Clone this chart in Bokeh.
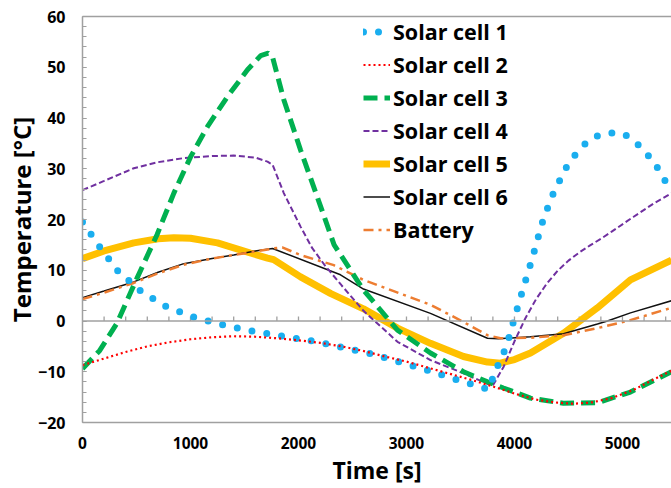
from bokeh.plotting import figure
from bokeh.models import Range1d, LinearAxis, FixedTicker, Legend, LegendItem, Span
from bokeh.embed import file_html
from bokeh.resources import INLINE

# ---- data: temperature histories over one orbit-like cycle ----
t_cell1 = [0, 160, 330, 545, 780, 1030, 1305, 1575, 1850, 2120, 2385, 2660, 2925,
           3195, 3455, 3715, 3760, 3830, 3900, 3950, 4000, 4050, 4100, 4150, 4200,
           4250, 4300, 4350, 4410, 4465, 4545, 4630, 4740, 4870, 5010, 5120, 5220,
           5305, 5370, 5454]
T_cell1 = [19.5, 14.6, 9.8, 5.8, 2.8, 0.8, -0.8, -2.0, -3.0, -3.9, -5.1, -6.4, -8.0,
           -9.7, -11.5, -13.2, -13.5, -9.5, -6.3, -3.2, 0.6, 4.2, 7.8, 11.3, 15.0,
           18.9, 21.9, 24.7, 27.3, 29.8, 32.3, 34.5, 36.3, 37.1, 36.9, 35.3, 33.1,
           30.9, 28.4, 25.8]

t_cell2 = [0, 200, 400, 600, 800, 1000, 1200, 1400, 1600, 1800, 2000, 2200, 2400,
           2600, 2800, 3000, 3200, 3400, 3600, 3800, 4000, 4200, 4400, 4550, 4700,
           4900, 5100, 5300, 5454]
T_cell2 = [-8.7, -7.4, -6.1, -5.0, -4.2, -3.6, -3.2, -3.0, -3.1, -3.4, -3.8, -4.3,
           -5.0, -5.9, -7.0, -8.0, -9.2, -10.4, -11.6, -12.9, -14.3, -15.5, -16.1,
           -16.3, -16.1, -15.2, -13.6, -11.4, -9.8]

t_cell3 = [0, 160, 320, 506, 690, 846, 1000, 1157, 1342, 1528, 1650, 1720, 1760,
           1864, 2019, 2173, 2330, 2602, 2917, 3222, 3528, 3750, 3898, 4148, 4454,
           4768, 5074, 5454]
T_cell3 = [-9.4, -5.8, -0.4, 8.5, 17.0, 25.2, 32.3, 38.3, 44.2, 49.5, 52.3, 52.8,
           52.0, 43.6, 33.7, 24.5, 15.0, 6.1, -1.8, -6.3, -10.0, -12.0, -13.2, -15.2,
           -16.2, -16.1, -14.0, -10.0]

t_cell4 = [0, 200, 475, 700, 938, 1200, 1400, 1600, 1713, 1760, 1864, 2019, 2126,
           2250, 2400, 2602, 2917, 3222, 3528, 3750, 3800, 3900, 4000, 4100, 4200,
           4300, 4400, 4500, 4600, 4700, 4800, 4900, 5100, 5300, 5454]
T_cell4 = [25.8, 27.6, 30.1, 31.3, 32.1, 32.5, 32.6, 32.2, 31.4, 30.8, 25.2, 18.6,
           14.4, 10.8, 7.0, 2.0, -4.1, -7.7, -10.3, -12.4, -12.7, -9.0, -4.0, 0.5,
           4.3, 7.4, 9.9, 11.9, 13.5, 14.9, 16.2, 17.6, 20.5, 23.3, 25.2]

t_cell5 = [0, 200, 475, 700, 846, 1000, 1250, 1555, 1713, 1770, 2019, 2300, 2602,
           2917, 3222, 3528, 3750, 3870, 4000, 4148, 4454, 4768, 5074, 5454]
T_cell5 = [12.3, 13.8, 15.4, 16.2, 16.4, 16.3, 15.4, 13.4, 12.4, 12.1, 8.7, 5.4,
           2.4, -1.4, -4.4, -7.0, -8.1, -8.3, -7.6, -6.3, -2.4, 2.6, 8.1, 12.0]

t_cell6 = [0, 200, 475, 700, 938, 1200, 1400, 1600, 1760, 2389, 2602, 3222, 3750,
           3850, 4148, 4454, 4768, 4861, 5074, 5454]
T_cell6 = [4.6, 5.9, 7.7, 9.6, 11.3, 12.3, 13.0, 13.8, 14.3, 9.1, 6.3, 1.5, -3.4,
           -3.5, -3.1, -2.5, -0.6, 0.0, 1.6, 4.0]

t_batt = [0, 200, 475, 700, 938, 1200, 1400, 1600, 1800, 1850, 2019, 2327, 2602,
          3222, 3528, 3750, 3870, 4148, 4454, 4768, 5046, 5454]
T_batt = [4.3, 5.6, 7.5, 9.4, 11.1, 12.3, 13.0, 13.7, 14.4, 14.5, 13.0, 11.0, 8.1,
          3.2, -0.2, -2.8, -3.4, -3.3, -2.8, -1.4, 0.0, 2.6]

y_ticks = list(range(-20, 61, 10))
y_minor_ticks = list(range(-20, 61, 2))
x_ticks = list(range(0, 5001, 1000))
zero_line_ticks = list(range(200, 5454, 200))

FONT = "Open Sans"
AXIS_GREY = "#A0A0A0"

p = figure(width=671, height=488, output_backend="svg", toolbar_location=None,
           x_range=Range1d(0, 5454), y_range=Range1d(-20, 60),
           x_axis_type=None, y_axis_type=None,
           min_border_left=82, min_border_right=0, min_border_top=16,
           min_border_bottom=66)
p.outline_line_color = None
p.background_fill_color = "white"
p.border_fill_color = "white"

# left axis with inward minor ticks every 2 degrees
yaxis = LinearAxis(
    ticker=FixedTicker(ticks=y_ticks, minor_ticks=y_minor_ticks),
    axis_line_color=AXIS_GREY, axis_line_width=1.5,
    major_tick_in=4, major_tick_out=0, minor_tick_in=4, minor_tick_out=0,
    major_tick_line_color=AXIS_GREY, minor_tick_line_color=AXIS_GREY,
    major_label_text_font=FONT, major_label_text_font_style="bold",
    major_label_text_font_size="16px", major_label_text_color="black",
    major_label_standoff=17,
    axis_label="Temperature [°C]", axis_label_text_font=FONT,
    axis_label_text_font_style="bold", axis_label_text_font_size="24px",
    axis_label_text_color="black", axis_label_standoff=-3)
p.add_layout(yaxis, "left")

# bottom axis carries the time labels; its line closes the frame at -20
xaxis = LinearAxis(
    ticker=FixedTicker(ticks=x_ticks, minor_ticks=[]),
    axis_line_color=AXIS_GREY, axis_line_width=1.5,
    major_tick_in=0, major_tick_out=0, minor_tick_in=0, minor_tick_out=0,
    major_label_text_font=FONT, major_label_text_font_style="bold",
    major_label_text_font_size="15.5px", major_label_text_color="black",
    major_label_standoff=14,
    axis_label="Time [s]", axis_label_text_font=FONT,
    axis_label_text_font_style="bold", axis_label_text_font_size="23px",
    axis_label_text_color="black", axis_label_standoff=2)
p.add_layout(xaxis, "below")

# top border line
top = LinearAxis(ticker=FixedTicker(ticks=[], minor_ticks=[]),
                 axis_line_color=AXIS_GREY, axis_line_width=1.5,
                 major_tick_in=0, major_tick_out=0, minor_tick_in=0,
                 minor_tick_out=0, major_label_standoff=0,
                 major_label_text_font_size="0px")
p.add_layout(top, "above")

# horizontal zero line with small upward ticks every 200 s
p.add_layout(Span(location=0, dimension="width", line_color=AXIS_GREY,
                  line_width=1.3))
p.segment(x0=zero_line_ticks, y0=[0] * len(zero_line_ticks),
          x1=zero_line_ticks, y1=[0.9] * len(zero_line_ticks),
          line_color=AXIS_GREY, line_width=1.3)

# series, bottom to top
r5 = p.line(t_cell5, T_cell5, line_color="#FFC000", line_width=7)
r6 = p.line(t_cell6, T_cell6, line_color="#111111", line_width=1.5)
r7 = p.line(t_batt, T_batt, line_color="#ED7D31", line_width=2.5,
            line_dash="10 5 3 5")
r4 = p.line(t_cell4, T_cell4, line_color="#7030A0", line_width=2,
            line_dash="6 3")
r3 = p.line(t_cell3, T_cell3, line_color="#00B050", line_width=5,
            line_dash="14 7")
r1 = p.line(t_cell1, T_cell1, line_color="#1AAEEF", line_width=7,
            line_dash="0 15", line_cap="round")
r2 = p.line(t_cell2, T_cell2, line_color="#FF0000", line_width=2.2,
            line_dash="2 3")

legend = Legend(items=[
    LegendItem(label="Solar cell 1", renderers=[r1]),
    LegendItem(label="Solar cell 2", renderers=[r2]),
    LegendItem(label="Solar cell 3", renderers=[r3]),
    LegendItem(label="Solar cell 4", renderers=[r4]),
    LegendItem(label="Solar cell 5", renderers=[r5]),
    LegendItem(label="Solar cell 6", renderers=[r6]),
    LegendItem(label="Battery", renderers=[r7]),
], location=(281, 178), padding=0, margin=0, spacing=4,
    glyph_width=27, glyph_height=29, label_height=29, label_standoff=3,
    label_text_font=FONT, label_text_font_style="bold",
    label_text_font_size="21.5px", label_text_color="black",
    border_line_color=None, background_fill_alpha=0)
p.add_layout(legend)

open("out.html", "w").write(file_html(p, INLINE))
